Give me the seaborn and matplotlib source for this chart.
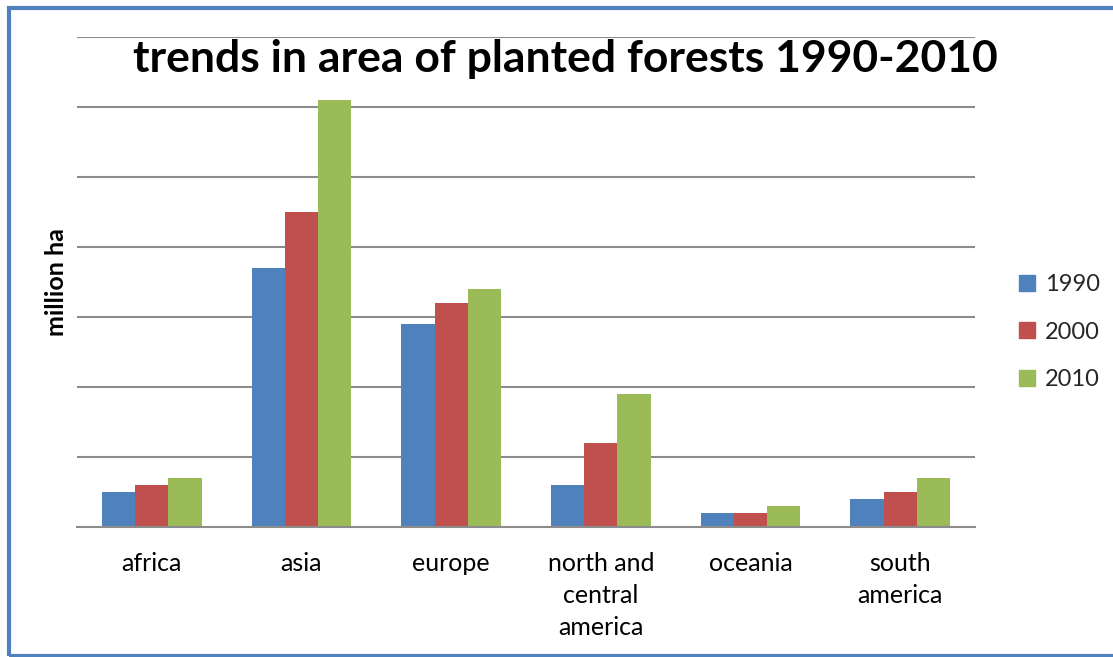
import matplotlib
matplotlib.use("Agg")
import matplotlib.pyplot as plt
import seaborn as sns
import pandas as pd
import numpy as np
from matplotlib.patches import Rectangle
from matplotlib.lines import Line2D

regions = ["africa", "asia", "europe", "north and\ncentral\namerica", "oceania", "south\namerica"]
years = ["1990", "2000", "2010"]
v1990 = [10, 74, 58, 12, 4, 8]
v2000 = [12, 90, 64, 24, 4, 10]
v2010 = [14, 122, 68, 38, 6, 14]
colors = ["#4F81BD", "#C0504D", "#9BBB59"]

rows = []
for yr, vals in zip(years, [v1990, v2000, v2010]):
    for r, v in zip(regions, vals):
        rows.append({"region": r, "year": yr, "value": v})
df = pd.DataFrame(rows)

sns.set_theme(style="white")
plt.rcParams['font.family'] = ['Lato', 'DejaVu Sans']

fig = plt.figure(figsize=(11.13, 6.57), dpi=100)
ax = fig.add_axes([77/1113, 1-526.7/657, (975-77)/1113, (526.7-36.7)/657])

sns.barplot(data=df, x="region", y="value", hue="year", order=regions, hue_order=years,
            palette=colors, width=0.667, saturation=1, ax=ax, legend=True,
            edgecolor="none", linewidth=0)

ax.set_ylim(0, 140)
ax.set_xlim(-0.5, 5.5)
ax.set_yticks(np.arange(20, 141, 20))
ax.set_yticklabels([])
ax.tick_params(axis='y', length=0)
ax.yaxis.grid(True, color="#8c8c8c", linewidth=1.5)
ax.set_axisbelow(True)
for s in ["left", "right", "top"]:
    ax.spines[s].set_visible(False)
ax.spines["bottom"].set_color("#8c8c8c")
ax.spines["bottom"].set_linewidth(1.5)

ax.set_xticks(range(len(regions)))
ax.set_xticks(np.arange(-0.5, 6.0, 1.0), minor=True)
ax.tick_params(axis='x', which='major', length=0, pad=18, colors="black", labelsize=18)
ax.tick_params(axis='x', which='minor', length=7, width=1.5, color="#8c8c8c", direction="out")
ax.set_xticklabels(regions, fontsize=18, linespacing=1.48, va="top")
ax.set_xlabel("")
ax.set_ylabel("")

ax.legend_.remove()
h = [Line2D([0], [0], marker="s", linestyle="", markersize=11, markerfacecolor=c, markeredgecolor=c) for c in colors]
fig.legend(h, years, loc="center left", bbox_to_anchor=(994/1113, 1-332/657), frameon=False,
           fontsize=17, labelspacing=1.12, handletextpad=0.25, handlelength=1.0)

fig.text(56/1113, 1-282/657, "million ha", rotation=90, ha="center", va="center",
         fontsize=18, fontweight="bold", color="black")

fig.text(565/1113, 1-59/657, "trends in area of planted forests 1990-2010", ha="center", va="center",
         fontsize=32, fontweight="bold", color="black")

fig.patches.append(Rectangle((9/1113, 1/657), 1.5, (657-9)/657, transform=fig.transFigure,
                             fill=False, edgecolor="#4F81BD", linewidth=3, clip_on=False))

fig.savefig("out.png", dpi=100)
